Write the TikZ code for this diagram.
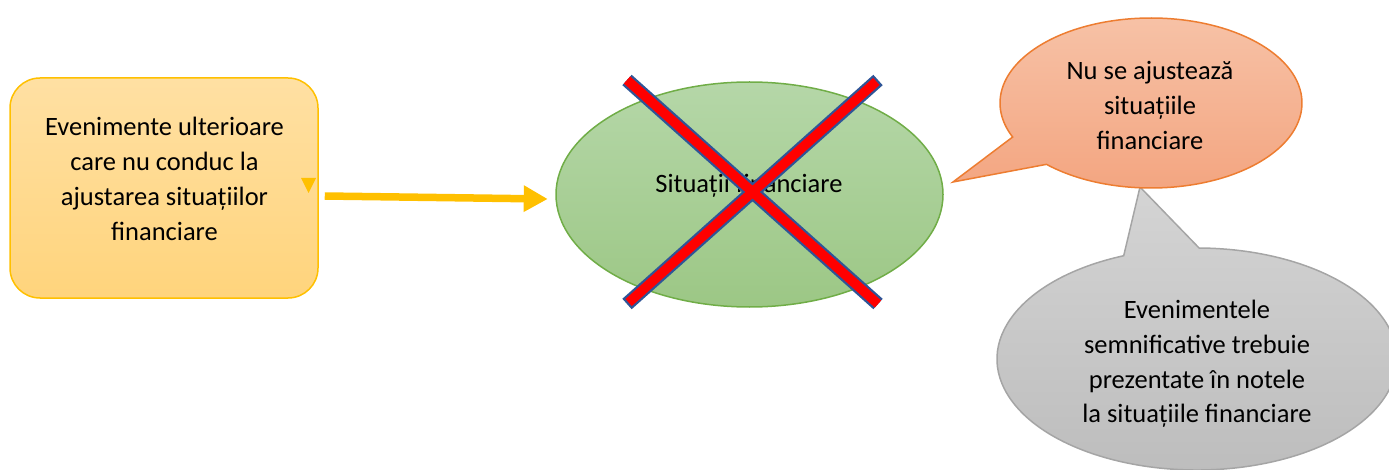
\documentclass[tikz,border=0pt]{standalone}
\usepackage{fontspec}
\setmainfont{Carlito}
\usetikzlibrary{arrows.meta,shapes.geometric,calc}
\definecolor{gold}{HTML}{FFC000}
\definecolor{boxtop}{HTML}{FFE0A3}
\definecolor{boxbot}{HTML}{FFD47C}
\definecolor{elltop}{HTML}{B5D7A8}
\definecolor{ellbot}{HTML}{9CC785}
\definecolor{ellline}{HTML}{70AD47}
\definecolor{xblue}{HTML}{2F5597}
\definecolor{otop}{HTML}{F7C3A8}
\definecolor{obot}{HTML}{F3A47F}
\definecolor{oline}{HTML}{ED7D31}
\definecolor{gtop}{HTML}{D4D4D4}
\definecolor{gbot}{HTML}{BCBCBC}
\definecolor{gline}{HTML}{A5A5A5}
\begin{document}
\begin{tikzpicture}[x=1pt,y=1pt,
  txt/.style={font=\fontsize{26.5}{34.8}\selectfont, align=center, inner sep=0pt, text=black},
  bubble/.style={line width=1.5pt}]
\useasboundingbox (0,0) rectangle (1389,469);
\clip (0,0) rectangle (1389,469);

% source box with its small marker
\node[draw=gold, line width=1.5pt, rounded corners=30pt, minimum width=308pt,
      minimum height=220pt, top color=boxtop, bottom color=boxbot, inner sep=0pt] (box) at (164,281) {};
\node[txt] (boxtext) at (164.5,290) {Evenimente ulterioare\\care nu conduc la\\ajustarea situațiilor\\financiare};
\fill[gold] (301,291) -- (316,291) -- (308.5,276) -- cycle;

% financial statements ellipse
\node[ellipse, draw=ellline, line width=1.5pt, top color=elltop, bottom color=ellbot,
      minimum width=387pt, minimum height=225pt, inner sep=0pt] (fs) at (749.5,274.5) {};
\node[txt] (fstext) at (749,283) {Situații financiare};

% arrow from the box to the ellipse
\coordinate (a0) at ($(box.east)+(6,-8)$);
\coordinate (a1) at ($(fs.west)+(-7.5,-4.5)$);
\draw[gold, line width=7.5pt, -{Triangle[length=24pt,width=25pt]}] (a0) -- (a1);

% crossing-out X
\coordinate (x1) at (627,389);
\coordinate (x2) at (878,165);
\coordinate (x3) at (878,389);
\coordinate (x4) at (627,165);
\draw[xblue, line width=14pt] (x1) -- (x2) (x3) -- (x4);
\draw[red, line width=9.5pt, shorten <=2.2pt, shorten >=2.2pt] (x1) -- (x2) (x3) -- (x4);

% grey callout
\coordinate (gc) at (1197,110);
\coordinate (gtip) at (1140,282);
\path[bubble, draw=gline, top color=gtop, bottom color=gbot]
  (gtip) -- ($(gc)+(111.5:200pt and 111pt)$)
  arc[start angle=111.5, end angle=449.4, x radius=200pt, y radius=111pt] -- cycle;
\node[txt] (gtext) at (1197,105) {Evenimentele\\semnificative trebuie\\prezentate în notele\\la situațiile financiare};

% orange callout
\coordinate (oc) at (1151,366);
\coordinate (otip) at (953,287);
\path[bubble, draw=oline, top color=otop, bottom color=obot]
  (otip) -- ($(oc)+(226.2:151pt and 85pt)$)
  arc[start angle=226.2, end angle=563.6, x radius=151pt, y radius=85pt] -- cycle;
\node[txt] (otext) at (1150,363.5) {Nu se ajustează\\situațiile\\financiare};
\end{tikzpicture}
\end{document}
